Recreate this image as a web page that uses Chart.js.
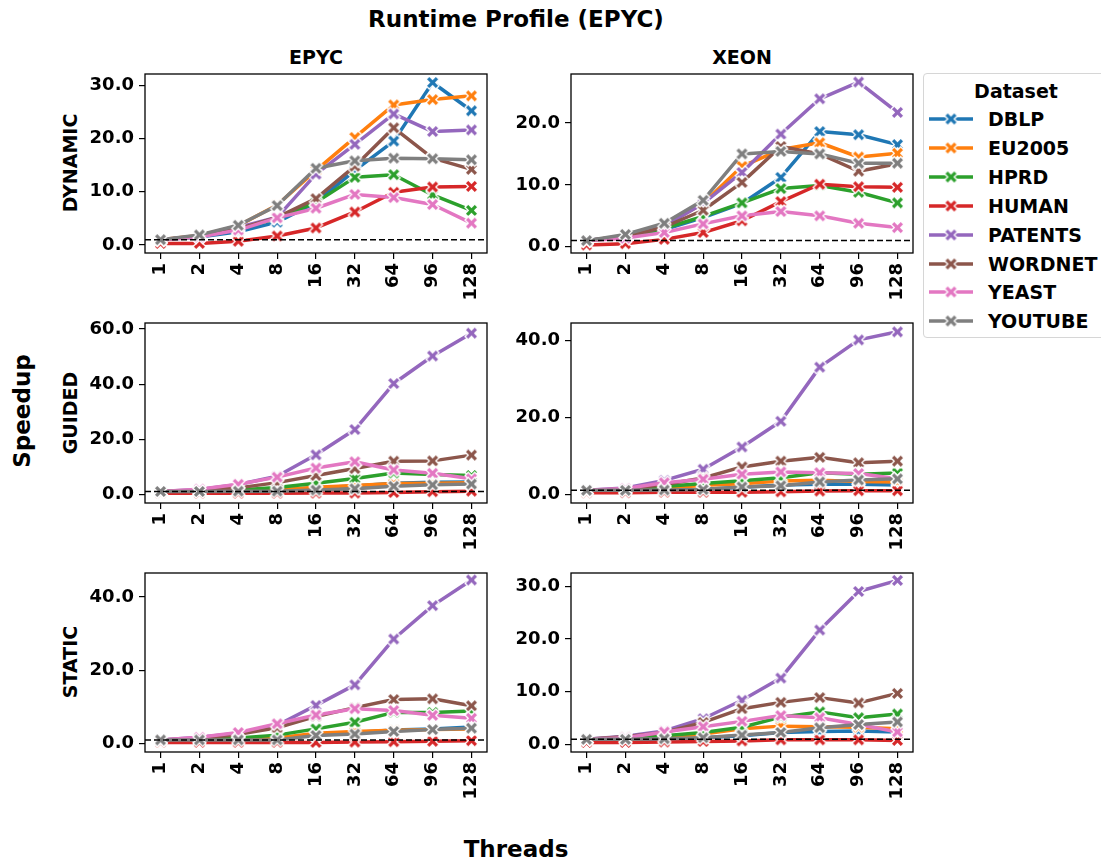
<!DOCTYPE html>
<html>
<head>
<meta charset="utf-8">
<script src="https://cdn.jsdelivr.net/npm/chart.js@4.4.0/dist/chart.umd.min.js"></script>
<style>
  body { margin: 0; background: #fff; font-family: 'DejaVu Sans', sans-serif; font-weight: bold; color: #000; }
  #fig { position: relative; width: 1101px; height: 861px; overflow: hidden; background: #fff; }
  .panel { position: absolute; }
  .lbl { position: absolute; white-space: nowrap; line-height: 1; transform: translate(-50%, -50%); }
  .rot { transform: translate(-50%, -50%) rotate(-90deg); }
  #legend { position: absolute; left: 923px; top: 73px; width: 184px; height: 265px; box-sizing: border-box;
            border: 1px solid #d6d6d6; border-radius: 4px; background: #fff; }
  .lg-row { position: absolute; left: 0; height: 20px; }
  .lg-row canvas { position: absolute; left: 4px; top: 0; }
  .lg-row span { position: absolute; left: 64px; top: 1px; font-size: 19px; line-height: 19px; }
</style>
</head>
<body>
<div id="fig">
  <div class="lbl" style="left:516px; top:19px; font-size:23px;">Runtime Profile (EPYC)</div>
  <div class="lbl" style="left:316px; top:57px; font-size:19px;">EPYC</div>
  <div class="lbl" style="left:742px; top:57px; font-size:19px;">XEON</div>
  <div class="lbl rot" style="left:70px; top:163px; font-size:19px;">DYNAMIC</div>
  <div class="lbl rot" style="left:70px; top:413px; font-size:19px;">GUIDED</div>
  <div class="lbl rot" style="left:70px; top:662px; font-size:19px;">STATIC</div>
  <div class="lbl rot" style="left:22px; top:411px; font-size:23px;">Speedup</div>
  <div class="lbl" style="left:516px; top:849px; font-size:23px;">Threads</div>
  <div id="legend">
    <div class="lbl" style="left:92px; top:17px; font-size:19px;">Dataset</div>
  </div>
</div>
<script>
// x categories and series
const threads = ['1', '2', '4', '8', '16', '32', '64', '96', '128'];
const seriesNames = ['DBLP', 'EU2005', 'HPRD', 'HUMAN', 'PATENTS', 'WORDNET', 'YEAST', 'YOUTUBE'];
const seriesColors = ['#1f77b4', '#ff7f0e', '#2ca02c', '#d62728', '#9467bd', '#8c564b', '#e377c2', '#7f7f7f'];

// speedup values, one row per series (same order as seriesNames)
const epycDynamic = [
    [1.0, 1.5, 2.5, 4.3, 8.0, 14.0, 19.5, 30.5, 25.2],
    [1.0, 1.8, 3.6, 7.5, 14.0, 20.2, 26.3, 27.3, 28.0],
    [1.0, 1.6, 3.0, 5.0, 8.0, 12.7, 13.2, 9.4, 6.5],
    [0.3, 0.3, 0.7, 1.7, 3.2, 6.2, 9.9, 10.9, 11.0],
    [1.0, 1.7, 3.3, 5.2, 13.3, 18.9, 24.6, 21.3, 21.6],
    [1.0, 1.6, 3.0, 5.2, 8.7, 14.8, 22.0, 16.3, 14.2],
    [1.0, 1.5, 2.8, 5.1, 6.9, 9.5, 8.9, 7.6, 4.1],
    [1.0, 1.9, 3.7, 7.4, 14.4, 15.8, 16.3, 16.2, 16.0]
];
const xeonDynamic = [
    [1.0, 1.7, 2.8, 4.7, 7.0, 11.2, 18.6, 18.1, 16.5],
    [1.0, 1.8, 3.5, 7.0, 13.0, 15.7, 16.8, 14.5, 15.1],
    [1.0, 1.5, 3.0, 4.9, 7.1, 9.4, 9.9, 8.8, 7.1],
    [0.3, 0.5, 1.2, 2.3, 4.2, 7.3, 10.1, 9.7, 9.6],
    [1.0, 1.7, 3.3, 7.0, 12.0, 18.2, 23.9, 26.6, 21.7],
    [1.0, 1.6, 3.2, 5.9, 10.4, 16.2, 15.0, 12.2, 13.4],
    [1.0, 1.4, 2.3, 3.7, 5.0, 5.7, 5.0, 3.8, 3.1],
    [1.0, 2.0, 3.8, 7.5, 15.0, 15.4, 15.0, 13.5, 13.5]
];
const epycGuided = [
    [1.0, 0.9, 1.0, 1.4, 2.3, 3.0, 4.0, 4.3, 4.4],
    [1.0, 0.9, 1.0, 1.5, 2.5, 3.2, 3.9, 4.0, 4.2],
    [1.0, 1.2, 1.5, 2.4, 4.0, 5.7, 7.7, 7.2, 6.8],
    [0.3, 0.3, 0.3, 0.3, 0.4, 0.4, 0.6, 0.9, 1.1],
    [1.0, 1.7, 3.5, 6.5, 14.3, 23.5, 40.2, 50.2, 58.5],
    [1.0, 1.3, 2.3, 4.2, 6.8, 9.3, 12.0, 12.1, 14.2],
    [1.0, 1.8, 3.6, 6.2, 9.5, 11.8, 8.8, 7.6, 5.6],
    [1.0, 1.0, 1.1, 1.1, 1.5, 2.0, 2.9, 3.4, 3.7]
];
const xeonGuided = [
    [1.0, 0.9, 1.1, 1.3, 1.8, 2.4, 2.6, 2.6, 2.4],
    [1.0, 1.0, 1.5, 2.3, 2.7, 3.4, 3.6, 3.3, 3.2],
    [1.0, 1.2, 2.0, 2.8, 3.5, 4.3, 5.6, 5.2, 5.5],
    [0.4, 0.4, 0.5, 0.5, 0.5, 0.6, 0.8, 0.9, 0.9],
    [1.0, 1.6, 3.6, 6.5, 12.3, 19.0, 33.1, 40.2, 42.3],
    [1.0, 1.3, 2.5, 4.2, 7.1, 8.6, 9.6, 8.2, 8.6],
    [1.0, 1.5, 3.0, 3.9, 5.2, 5.8, 5.6, 5.4, 4.0],
    [1.0, 1.0, 1.1, 1.2, 1.9, 2.2, 3.2, 3.7, 4.0]
];
const epycStatic = [
    [1.0, 0.9, 1.0, 1.3, 2.3, 3.0, 3.7, 4.0, 4.5],
    [1.0, 0.9, 1.0, 1.5, 2.8, 3.3, 3.6, 3.8, 4.0],
    [1.0, 1.2, 1.5, 2.3, 4.0, 5.8, 8.5, 8.5, 8.9],
    [0.3, 0.3, 0.3, 0.3, 0.3, 0.4, 0.5, 0.6, 0.8],
    [1.0, 1.7, 2.8, 5.0, 10.4, 16.0, 28.5, 37.6, 44.6],
    [1.0, 1.4, 2.5, 4.3, 7.4, 9.8, 12.0, 12.2, 10.3],
    [1.0, 1.7, 3.0, 5.4, 7.8, 9.5, 9.0, 7.7, 6.9],
    [1.0, 1.0, 1.0, 1.0, 2.2, 2.6, 3.3, 3.8, 4.2]
];
const xeonStatic = [
    [1.0, 0.9, 1.0, 1.3, 1.7, 2.3, 2.5, 2.6, 2.4],
    [1.0, 1.0, 1.3, 2.0, 3.0, 3.5, 3.4, 3.3, 3.0],
    [1.0, 1.2, 1.7, 2.3, 3.3, 5.2, 6.2, 5.1, 5.8],
    [0.4, 0.4, 0.5, 0.6, 0.7, 0.9, 0.9, 0.9, 0.8],
    [1.0, 1.6, 2.6, 4.9, 8.4, 12.6, 21.7, 29.0, 31.1],
    [1.0, 1.5, 2.3, 4.2, 6.8, 8.0, 8.9, 7.9, 9.7],
    [1.0, 1.3, 2.4, 3.4, 4.4, 5.5, 5.1, 3.8, 2.4],
    [1.0, 1.0, 1.1, 1.3, 1.8, 2.3, 3.2, 3.8, 4.3]
];

// y tick labels per panel
const epycDynamicTicks = [0, 10, 20, 30];
const xeonDynamicTicks = [0, 10, 20];
const epycGuidedTicks = [0, 20, 40, 60];
const xeonGuidedTicks = [0, 20, 40];
const epycStaticTicks = [0, 20, 40];
const xeonStaticTicks = [0, 10, 20, 30];

const speedupBaseline = 1;

// layout
const Y_AXIS_W = 80, X_AXIS_H = 60, PAD_T = 20, PAD_R = 20;
const tickFont = { family: 'DejaVu Sans', size: 18, weight: 'bold' };

// filled "X" marker with white edge (like matplotlib 'X')
function makeMarker(color, size) {
    const pad = 2;
    const c = document.createElement('canvas');
    c.width = c.height = size + pad * 2;
    const ctx = c.getContext('2d');
    const pts = [[0.25, 0], [0.5, 0.25], [0.75, 0], [1, 0.25], [0.75, 0.5], [1, 0.75],
                 [0.75, 1], [0.5, 0.75], [0.25, 1], [0, 0.75], [0.25, 0.5], [0, 0.25]];
    ctx.beginPath();
    pts.forEach(([x, y], i) => {
        const px = pad + x * size, py = pad + y * size;
        if (i) ctx.lineTo(px, py); else ctx.moveTo(px, py);
    });
    ctx.closePath();
    ctx.fillStyle = color;
    ctx.fill();
    ctx.strokeStyle = '#fff';
    ctx.lineWidth = 1.3;
    ctx.stroke();
    return c;
}
const markers = seriesColors.map(c => makeMarker(c, 13));

// frame + dashed speedup=1 line
const framePlugin = {
    id: 'frame',
    afterDatasetsDraw(chart) {
        const { ctx, chartArea: a, scales } = chart;
        const y = scales.y.getPixelForValue(speedupBaseline);
        ctx.save();
        ctx.strokeStyle = '#000';
        ctx.lineWidth = 1.5;
        ctx.setLineDash([6, 3]);
        ctx.beginPath();
        ctx.moveTo(a.left, y);
        ctx.lineTo(a.right, y);
        ctx.stroke();
        ctx.setLineDash([]);
        ctx.lineWidth = 1.3;
        ctx.strokeRect(a.left, a.top, a.right - a.left, a.bottom - a.top);
        ctx.restore();
    }
};

function buildPanel(rows, yTicks, yMin, yMax, rect) {
    const canvas = document.createElement('canvas');
    const w = rect.w + Y_AXIS_W + PAD_R, h = rect.h + PAD_T + X_AXIS_H;
    canvas.width = w;
    canvas.height = h;
    canvas.className = 'panel';
    canvas.style.left = (rect.l - Y_AXIS_W) + 'px';
    canvas.style.top = (rect.t - PAD_T) + 'px';
    canvas.style.width = w + 'px';
    canvas.style.height = h + 'px';
    document.getElementById('fig').appendChild(canvas);

    new Chart(canvas, {
        type: 'line',
        data: {
            datasets: seriesNames.map((name, i) => ({
                label: name,
                data: rows[i].map((v, j) => ({ x: j, y: v })),
                borderColor: seriesColors[i],
                backgroundColor: seriesColors[i],
                borderWidth: 3.5,
                borderJoinStyle: 'round',
                pointStyle: markers[i],
                pointRadius: 7,
                pointHoverRadius: 7,
                order: seriesNames.length - i,
                tension: 0,
                fill: false
            }))
        },
        options: {
            responsive: false,
            animation: false,
            devicePixelRatio: 1,
            layout: { padding: { left: 0, top: PAD_T, right: PAD_R, bottom: 0 } },
            plugins: { legend: { display: false }, tooltip: { enabled: false } },
            scales: {
                x: {
                    type: 'linear',
                    min: -0.4,
                    max: 8.4,
                    afterBuildTicks: s => { s.ticks = threads.map((t, j) => ({ value: j })); },
                    afterFit: s => { s.height = X_AXIS_H; },
                    ticks: {
                        callback: v => threads[v],
                        minRotation: 90, maxRotation: 90,
                        autoSkip: false,
                        font: tickFont, color: '#000', padding: 4
                    },
                    grid: { drawOnChartArea: false, tickLength: 6, color: '#000', lineWidth: 1.2 },
                    border: { display: false }
                },
                y: {
                    min: yMin,
                    max: yMax,
                    afterBuildTicks: s => { s.ticks = yTicks.map(v => ({ value: v })); },
                    afterFit: s => { s.width = Y_AXIS_W; },
                    ticks: {
                        callback: v => Number(v).toFixed(1),
                        font: tickFont, color: '#000', padding: 5
                    },
                    grid: { drawOnChartArea: false, tickLength: 6, color: '#000', lineWidth: 1.2 },
                    border: { display: false }
                }
            }
        },
        plugins: [framePlugin]
    });
}

const leftCol = 145, rightCol = 571, colW = 342;
buildPanel(epycDynamic, epycDynamicTicks, -1.5, 32.1, { l: leftCol, t: 74, w: colW, h: 179 });
buildPanel(xeonDynamic, xeonDynamicTicks, -1.0, 27.9, { l: rightCol, t: 74, w: colW, h: 179 });
buildPanel(epycGuided, epycGuidedTicks, -3.2, 62.2, { l: leftCol, t: 323, w: colW, h: 180 });
buildPanel(xeonGuided, xeonGuidedTicks, -2.3, 44.6, { l: rightCol, t: 323, w: colW, h: 180 });
buildPanel(epycStatic, epycStaticTicks, -2.3, 46.5, { l: leftCol, t: 573, w: colW, h: 179 });
buildPanel(xeonStatic, xeonStaticTicks, -1.4, 32.5, { l: rightCol, t: 573, w: colW, h: 179 });

// legend
const legend = document.getElementById('legend');
seriesNames.forEach((name, i) => {
    const row = document.createElement('div');
    row.className = 'lg-row';
    row.style.top = (35 + i * 28.9) + 'px';
    row.style.width = '180px';
    const c = document.createElement('canvas');
    c.width = 46; c.height = 20;
    const ctx = c.getContext('2d');
    ctx.strokeStyle = seriesColors[i];
    ctx.lineWidth = 3.5;
    ctx.beginPath(); ctx.moveTo(1, 10); ctx.lineTo(45, 10); ctx.stroke();
    ctx.drawImage(markers[i], 23 - markers[i].width / 2, 10 - markers[i].height / 2);
    row.appendChild(c);
    const s = document.createElement('span');
    s.textContent = name;
    row.appendChild(s);
    legend.appendChild(row);
});
</script>
</body>
</html>
